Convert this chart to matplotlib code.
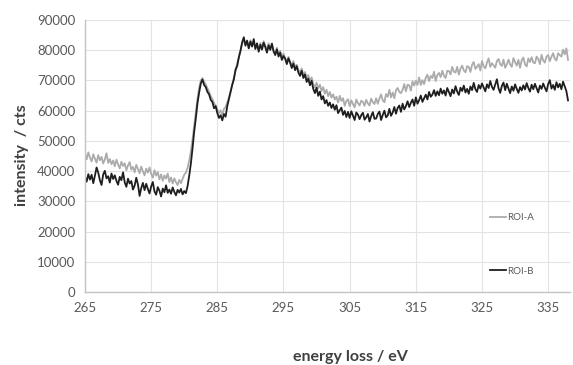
import numpy as np
import matplotlib
matplotlib.use("Agg")
from matplotlib import pyplot as plt

# energy loss grid: 265 .. 338 eV, one point every 0.25 eV
e_start = 265.0
e_step = 0.25

# ROI-A (gray), counts, 8 points = 2 eV per row
roi_a = [
    45800, 43900, 46200, 44500, 43200, 45600, 44100, 42800,   # 265
    45300, 43600, 44700, 42500, 43900, 45900, 42700, 44000,   # 267
    42300, 43500, 41600, 43800, 42200, 40900, 43100, 41700,   # 269
    42600, 40300, 41900, 43000, 40500, 41400, 39600, 42100,   # 271
    40700, 39300, 41500, 39900, 38600, 40800, 39500, 41200,   # 273
    39100, 37800, 40300, 38500, 39700, 37300, 38900, 36800,   # 275
    38600, 37500, 39200, 36400, 37900, 35900, 37600, 36300,   # 277
    35400, 37100, 36000, 37400, 38800, 39500, 41000, 43500,   # 279
    46500, 50500, 55000, 59500, 64000, 67500, 70000, 70800,   # 281
    69600, 68700, 67400, 66300, 64800, 63900, 62500, 61700,   # 283
    60400, 59200, 60100, 58700, 60600, 61200, 62800, 64300,   # 285
    66500, 68800, 70900, 73400, 75600, 77900, 80100, 82200,   # 287
    83600, 81900, 82800, 80900, 83300, 81400, 82600, 80700,   # 289
    82000, 80300, 82400, 81100, 83000, 81500, 80200, 82300,   # 291
    80600, 81800, 79900, 79000, 80800, 78600, 79800, 77700,   # 293
    78900, 77400, 76300, 77800, 76100, 75000, 76400, 74300,   # 295
    75200, 73500, 72600, 74000, 71900, 72800, 70700, 71800,   # 297
    69800, 71000, 68900, 67700, 69300, 67400, 68600, 66500,   # 299
    67800, 65600, 66900, 64800, 66200, 64300, 65400, 63700,   # 301
    64600, 62700, 64900, 63200, 64100, 61600, 63200, 63800,   # 303
    61500, 63400, 62200, 61100, 63700, 62500, 61700, 63300,   # 305
    62900, 61600, 63600, 62400, 61700, 64000, 62800, 62200,   # 307
    64100, 62300, 64000, 65400, 63400, 62800, 65500, 64600,   # 309
    66900, 64400, 66000, 64100, 66800, 67500, 66200, 65800,   # 311
    66900, 68800, 66400, 68600, 68400, 66600, 69700, 68300,   # 313
    69900, 68500, 71000, 68500, 70100, 68800, 70900, 71900,   # 315
    69800, 71500, 70800, 72900, 69800, 71800, 72500, 71100,   # 317
    73200, 71500, 70800, 73200, 73100, 72000, 74500, 72900,   # 319
    72600, 74500, 71900, 73900, 74900, 73300, 72700, 74700,   # 321
    74500, 72800, 75200, 76100, 73800, 74500, 75400, 73300,   # 323
    76400, 74700, 74000, 75900, 77300, 74500, 75700, 75000,   # 325
    74200, 76400, 77100, 75400, 74800, 76900, 74200, 75300,   # 327
    76900, 75300, 74500, 77400, 76100, 74900, 76800, 74200,   # 329
    76700, 77600, 75300, 74600, 77300, 76100, 77700, 75900,   # 331
    75700, 77900, 77100, 75400, 78500, 76600, 75900, 77900,   # 333
    78400, 76400, 77800, 79000, 77200, 76600, 79000, 78400,   # 335
    77900, 80200, 78600, 80600, 76800,                        # 337
]

# ROI-B (black)
roi_b = [
    38200, 36500, 39000, 37200, 38800, 36000, 38500, 41200,   # 265
    39500, 37000, 35400, 38900, 40100, 37600, 38300, 36200,   # 267
    39200, 37400, 38600, 36800, 35500, 38100, 37000, 39600,   # 269
    36300, 34800, 37500, 35900, 36700, 33900, 35200, 37800,   # 271
    35600, 31800, 34400, 36100, 33700, 35800, 34100, 32600,   # 273
    34900, 36400, 33300, 32200, 34700, 33500, 31600, 34200,   # 275
    33000, 35300, 32800, 33900, 32500, 34600, 33100, 32000,   # 277
    33800, 32900, 34100, 32300, 33400, 32700, 35000, 38500,   # 279
    42500, 47500, 53000, 57500, 62500, 66000, 69000, 70300,   # 281
    68500, 67800, 66200, 65400, 63600, 62900, 60800, 61500,   # 283
    59200, 57600, 58500, 56800, 58900, 58000, 61500, 63800,   # 285
    66000, 68500, 70400, 73500, 74800, 77600, 79800, 82600,   # 287
    84300, 81500, 83200, 80600, 82900, 81200, 83700, 80400,   # 289
    82300, 79500, 81800, 80200, 82500, 81000, 79200, 81600,   # 291
    80100, 82200, 79600, 78400, 80300, 77900, 79200, 76800,   # 293
    78100, 77200, 75400, 77300, 75900, 74100, 75600, 73400,   # 295
    74700, 72600, 71500, 73200, 70800, 72000, 69500, 70600,   # 297
    68400, 69900, 67200, 65800, 67600, 64900, 66300, 63700,   # 299
    64800, 62400, 63500, 61600, 62700, 60900, 62100, 60300,   # 301
    61800, 59200, 60100, 61000, 58600, 59900, 57900, 59600,   # 303
    57600, 59800, 58300, 56900, 59400, 58700, 57200, 58500,   # 305
    59300, 57000, 57800, 58900, 56400, 58200, 59500, 57300,   # 307
    57400, 58900, 59700, 56900, 58600, 60000, 57800, 58400,   # 309
    60600, 58300, 59400, 61200, 59000, 60900, 61700, 59600,   # 311
    62300, 60400, 61500, 63100, 61200, 62600, 63700, 61600,   # 313
    64400, 62300, 63500, 65000, 62900, 64100, 65300, 63700,   # 315
    66200, 64600, 65300, 66800, 64900, 66400, 65100, 67300,   # 317
    65600, 66700, 65000, 67500, 66100, 64800, 67000, 65700,   # 319
    68100, 66300, 65200, 67600, 66500, 68300, 66000, 67200,   # 321
    65600, 68000, 66800, 69200, 67100, 66200, 68500, 67300,   # 323
    69000, 67700, 66400, 68700, 67500, 69800, 67900, 66900,   # 325
    68600, 70400, 67400, 65900, 68200, 69300, 66800, 68900,   # 327
    67300, 65800, 68000, 66600, 68700, 67200, 65900, 67800,   # 329
    66700, 68400, 67000, 69100, 67500, 66300, 68600, 67100,   # 331
    68900, 67400, 66000, 68300, 67200, 69000, 67600, 66400,   # 333
    68800, 70100, 67300, 68500, 66900, 69400, 67700, 68900,   # 335
    67100, 69600, 68000, 66500, 63400,                        # 337
]

x_ticks = [265, 275, 285, 295, 305, 315, 325, 335]
y_ticks = [0, 10000, 20000, 30000, 40000, 50000, 60000, 70000, 80000, 90000]

energy = e_start + e_step * np.arange(len(roi_a))

plt.rcParams["font.family"] = ["Lato", "DejaVu Sans"]

fig = plt.figure(figsize=(5.73, 3.65), dpi=100)
ax = fig.add_axes([85 / 573, 73 / 365, 485 / 573, 272 / 365])

ax.plot(energy, roi_a, color="#ababab", lw=1.3, label="ROI-A")
ax.plot(energy, roi_b, color="#1e1e1e", lw=1.3, label="ROI-B")

ax.set_xlim(265, 338.3)
ax.set_ylim(0, 90000)
ax.set_xticks(x_ticks)
ax.set_yticks(y_ticks)
ax.grid(True, color="#e3e3e3", lw=0.8)
ax.set_axisbelow(True)

for side in ["top", "right"]:
    ax.spines[side].set_visible(False)
for side in ["left", "bottom"]:
    ax.spines[side].set_color("#c4c4c4")
    ax.spines[side].set_linewidth(1.0)

ax.tick_params(length=0, labelsize=9.5, colors="#595959", pad=7)

fig.text(22 / 573, 1 - 155 / 365, "intensity  / cts", rotation=90, ha="center",
         va="center", fontsize=11.5, fontweight="bold", color="#404040")
fig.text(350 / 573, 1 - 364 / 365, "energy loss / eV", ha="center", va="bottom",
         fontsize=11.5, fontweight="bold", color="#404040")

leg = ax.legend(loc="upper left", bbox_to_anchor=((490 - 85) / 485, (292 - 213) / 272),
                frameon=False, fontsize=7, labelspacing=4.6, handlelength=1.6,
                handletextpad=0.15, borderpad=0, borderaxespad=0)
for t in leg.get_texts():
    t.set_color("#595959")

fig.savefig("out.png", dpi=100)
